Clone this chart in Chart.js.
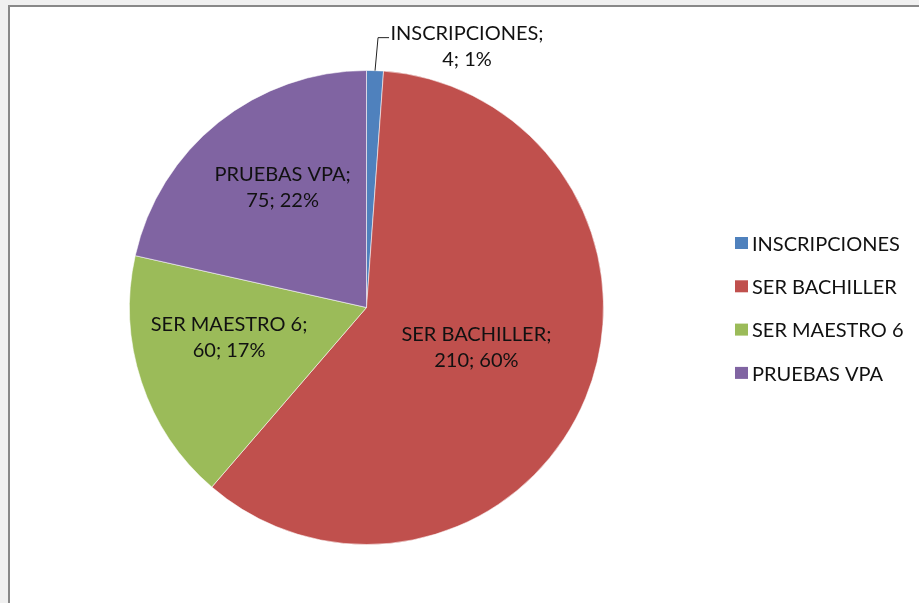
<!DOCTYPE html>
<html><head><meta charset="utf-8">
<script src="https://cdn.jsdelivr.net/npm/chart.js@4/dist/chart.umd.min.js"></script>
<style>
html,body{margin:0;padding:0;background:#f0f0f0;width:919px;height:603px;overflow:hidden}
#frame{position:absolute;left:8px;top:5px;width:960px;height:660px;background:#fff;border:2px solid #888;box-sizing:border-box}
#wrap{position:absolute;left:0;top:0;width:919px;height:603px}
</style></head><body>
<div id="frame"></div>
<div id="wrap"><canvas id="c" width="919" height="603"></canvas></div>
<script>
// ---- data ----
const categories = ['INSCRIPCIONES', 'SER BACHILLER', 'SER MAESTRO 6', 'PRUEBAS VPA'];
const values = [4, 210, 60, 75];
const percentLabels = ['1%', '60%', '17%', '22%'];
const colors = ['#4F81BD', '#C0504D', '#9BBB59', '#8064A2'];

// ---- label placement (style, not data) ----
const FONT = '20px Lato';
const labelPlacement = [
  {outside: true},
  {angleFrac: 0.488, radiusFrac: 0.493},
  {angleFrac: 0.60, radiusFrac: 0.593},
  {angleFrac: 0.55, radiusFrac: 0.62}
];

const labelPlugin = {
  id: 'sliceLabels',
  afterDatasetsDraw(chart) {
    const ctx = chart.ctx;
    const meta = chart.getDatasetMeta(0);
    ctx.save();
    ctx.font = FONT;
    ctx.fillStyle = '#111';
    ctx.textBaseline = 'alphabetic';
    ctx.textAlign = 'center';
    meta.data.forEach((arc, i) => {
      const p = arc.getProps(['x', 'y', 'startAngle', 'endAngle', 'outerRadius'], true);
      const line1 = categories[i] + ';';
      const line2 = values[i] + '; ' + percentLabels[i];
      const pl = labelPlacement[i];
      if (pl.outside) {
        const a = (p.startAngle + p.endAngle) / 2;
        const ex = p.x + Math.cos(a) * p.outerRadius;
        const ey = p.y + Math.sin(a) * p.outerRadius;
        const bx = ex + 3, by = ey - 33;
        ctx.strokeStyle = '#222';
        ctx.lineWidth = 1;
        ctx.beginPath();
        ctx.moveTo(ex, ey);
        ctx.lineTo(bx, by);
        ctx.lineTo(bx + 11, by);
        ctx.stroke();
        ctx.fillText(line1, bx + 89, by + 2.5);
        ctx.fillText(line2, bx + 89, by + 28.5);
      } else {
        const a = p.startAngle + (p.endAngle - p.startAngle) * pl.angleFrac;
        const cx = p.x + Math.cos(a) * p.outerRadius * pl.radiusFrac;
        const cy = p.y + Math.sin(a) * p.outerRadius * pl.radiusFrac;
        ctx.fillText(line1, cx, cy - 6.3);
        ctx.fillText(line2, cx, cy + 20.3);
      }
    });
    // legend
    ctx.textAlign = 'left';
    ctx.fillStyle = '#111';
    categories.forEach((name, i) => {
      const y0 = 237 + i * 43.3;
      ctx.fillStyle = colors[i];
      ctx.fillRect(735, y0, 13, 12);
      ctx.fillStyle = '#111';
      ctx.fillText(name, 752, y0 + 13.7);
    });
    ctx.restore();
  }
};

function build() {
  new Chart(document.getElementById('c'), {
    type: 'pie',
    data: {
      labels: categories,
      datasets: [{
        data: values,
        backgroundColor: colors,
        borderColor: 'rgba(255,255,255,0.55)',
        borderWidth: 1
      }]
    },
    options: {
      responsive: false,
      animation: false,
      layout: {padding: {left: 129, right: 315, top: 70, bottom: 58}},
      plugins: {legend: {display: false}, tooltip: {enabled: false}}
    },
    plugins: [labelPlugin]
  });
}
if (document.fonts && document.fonts.load) {
  document.fonts.load(FONT).then(build, build);
} else { build(); }
</script>
</body></html>
